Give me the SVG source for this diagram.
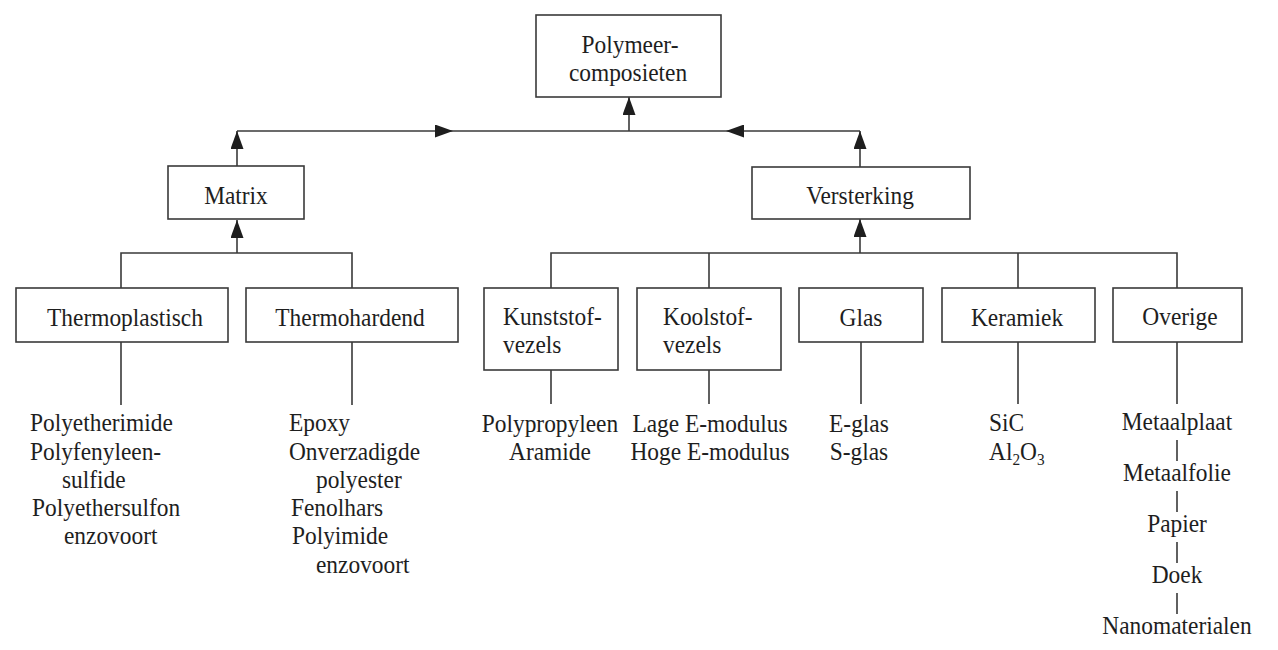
<svg xmlns="http://www.w3.org/2000/svg" width="1278" height="650" viewBox="0 0 1278 650">
<defs>
<style>
.box{fill:#fff;stroke:#3a3a3a;stroke-width:1.6}
.ln{fill:none;stroke:#3a3a3a;stroke-width:1.6}
text{font-family:"Liberation Serif","Times New Roman",serif;font-size:26px;fill:#1e1e1e}
.c{text-anchor:middle}
.sub{font-size:17px}
</style>
<marker id="ah" viewBox="0 0 18 13" refX="18" refY="6.5" markerWidth="18" markerHeight="13" markerUnits="userSpaceOnUse" orient="auto">
<path d="M0,0 L18,6.5 L0,13 z" fill="#1e1e1e"/>
</marker>
</defs>
<rect width="1278" height="650" fill="#fff"/>

<g id="connectors">
<path class="ln" d="M237,131 H453" marker-end="url(#ah)"/>
<path class="ln" d="M453,131 H726"/>
<path class="ln" d="M860,131 H726" marker-end="url(#ah)"/>
<path class="ln" d="M629,131 V97" marker-end="url(#ah)"/>
<path class="ln" d="M237,166 V131" marker-end="url(#ah)"/>
<path class="ln" d="M860,167 V131" marker-end="url(#ah)"/>
<path class="ln" d="M121,288 V253 H352 V288"/>
<path class="ln" d="M237,253 V220" marker-end="url(#ah)"/>
<path class="ln" d="M551,288 V253 H1177 V288"/>
<path class="ln" d="M709,253 V288"/>
<path class="ln" d="M1018,253 V288"/>
<path class="ln" d="M860,253 V219" marker-end="url(#ah)"/>
<path class="ln" d="M121,342 V405 M352,342 V405 M551,370 V404 M709,370 V404 M861,342 V404 M1018,342 V404 M1177,342 V404"/>
<path class="ln" d="M1177,440 V461 M1177,491 V512 M1177,542 V563 M1177,593 V614"/>
</g>

<g id="n-polymeer">
<rect class="box" x="536" y="15" width="185" height="82"/>
<text class="c" transform="scale(0.9 1)" x="700" y="53">Polymeer-</text>
<text class="c" transform="scale(0.9 1)" x="697.8" y="81">composieten</text>
</g>
<g id="n-matrix">
<rect class="box" x="168" y="166" width="136" height="53"/>
<text class="c" transform="scale(0.9 1)" x="262.2" y="204">Matrix</text>
</g>
<g id="n-versterking">
<rect class="box" x="752" y="167" width="218" height="52"/>
<text class="c" transform="scale(0.9 1)" x="955.6" y="204">Versterking</text>
</g>
<g id="n-thermoplastisch">
<rect class="box" x="16" y="288" width="212" height="54"/>
<text class="c" transform="scale(0.9 1)" x="138.9" y="326">Thermoplastisch</text>
</g>
<g id="n-thermohardend">
<rect class="box" x="246" y="288" width="212" height="54"/>
<text class="c" transform="scale(0.9 1)" x="388.9" y="326">Thermohardend</text>
</g>
<g id="n-kunststof">
<rect class="box" x="484" y="288" width="134" height="82"/>
<text transform="scale(0.9 1)" x="558.9" y="325">Kunststof-</text>
<text transform="scale(0.9 1)" x="558.9" y="353">vezels</text>
</g>
<g id="n-koolstof">
<rect class="box" x="637" y="288" width="144" height="82"/>
<text transform="scale(0.9 1)" x="736.7" y="325">Koolstof-</text>
<text transform="scale(0.9 1)" x="736.7" y="353">vezels</text>
</g>
<g id="n-glas">
<rect class="box" x="799" y="288" width="124" height="54"/>
<text class="c" transform="scale(0.9 1)" x="956.7" y="326">Glas</text>
</g>
<g id="n-keramiek">
<rect class="box" x="942" y="288" width="153" height="54"/>
<text class="c" transform="scale(0.9 1)" x="1130" y="326">Keramiek</text>
</g>
<g id="n-overige">
<rect class="box" x="1113" y="288" width="129" height="54"/>
<text class="c" transform="scale(0.9 1)" x="1311.1" y="325">Overige</text>
</g>

<g id="list-thermoplastisch" transform="scale(0.9 1)">
<text x="33.3" y="431">Polyetherimide</text>
<text x="33.3" y="460">Polyfenyleen-</text>
<text x="68.9" y="488">sulfide</text>
<text x="35.6" y="516">Polyethersulfon</text>
<text x="71.1" y="544">enzovoort</text>
</g>
<g id="list-thermohardend" transform="scale(0.9 1)">
<text x="321.1" y="431">Epoxy</text>
<text x="321.1" y="460">Onverzadigde</text>
<text x="351.1" y="488">polyester</text>
<text x="323.3" y="516">Fenolhars</text>
<text x="324.4" y="544">Polyimide</text>
<text x="351.1" y="573">enzovoort</text>
</g>
<g id="list-kunststof" transform="scale(0.9 1)">
<text class="c" x="611.1" y="432">Polypropyleen</text>
<text class="c" x="611.1" y="460">Aramide</text>
</g>
<g id="list-koolstof" transform="scale(0.9 1)">
<text class="c" x="788.9" y="432">Lage E-modulus</text>
<text class="c" x="788.9" y="460">Hoge E-modulus</text>
</g>
<g id="list-glas" transform="scale(0.9 1)">
<text class="c" x="954.4" y="432">E-glas</text>
<text class="c" x="954.4" y="460">S-glas</text>
</g>
<g id="list-keramiek" transform="scale(0.9 1)">
<text x="1098.9" y="431">SiC</text>
<text x="1098.9" y="460">Al<tspan class="sub" dy="5">2</tspan><tspan dy="-5">O</tspan><tspan class="sub" dy="5">3</tspan></text>
</g>
<g id="list-overige" transform="scale(0.9 1)">
<text class="c" x="1307.8" y="430">Metaalplaat</text>
<text class="c" x="1307.8" y="481">Metaalfolie</text>
<text class="c" x="1307.8" y="532">Papier</text>
<text class="c" x="1307.8" y="583">Doek</text>
<text class="c" x="1307.8" y="634">Nanomaterialen</text>
</g>
</svg>
